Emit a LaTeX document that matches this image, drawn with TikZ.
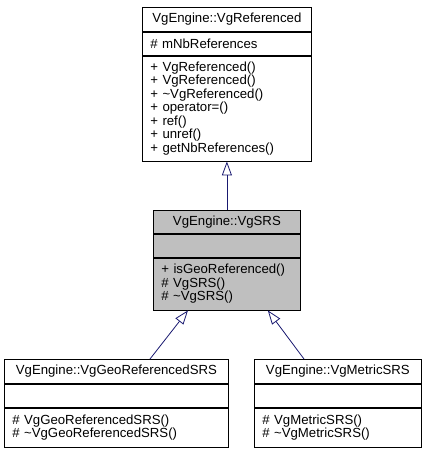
\documentclass[tikz,border=0pt]{standalone}
\usepackage{fontspec}
\setmainfont{Liberation Sans}
\usetikzlibrary{arrows.meta}
\definecolor{edgeblue}{HTML}{191970}
\definecolor{nodegrey}{HTML}{BFBFBF}
\tikzset{
  cls/.style={draw=black, line width=0.8pt, inner xsep=8pt, inner ysep=0pt, anchor=north west, font=\fontsize{13.2}{13.5}\selectfont},
  clshead/.style 2 args={cls, text width=#1, minimum height=#2, align=center},
  clsrow/.style 2 args={cls, text width=#1, minimum height=#2, align=left},
  inherit/.style={draw=edgeblue, line width=0.8pt, -{Triangle[open, length=14pt, width=10pt]}},
}

\begin{document}
\begin{tikzpicture}[x=1pt, y=-1pt]
			%%%%% FRAME %%%%%
			\useasboundingbox (0,0) rectangle (425,451);
			
			%%%%% BASE CLASS %%%%%
			\node[clshead={153pt}{24pt}] (ref) at (142,7) {VgEngine::VgReferenced};
			\node[clsrow={153pt}{23pt}] (ref-a) at (ref.south west) {\# mNbReferences};
			\node[clsrow={153pt}{105pt}] (ref-m) at (ref-a.south west) {+ VgReferenced()\\+ VgReferenced()\\+ \textasciitilde VgReferenced()\\+ operator=()\\+ ref()\\+ unref()\\+ getNbReferences()};
			
			%%%%% CURRENT CLASS %%%%%
			\node[clshead={131pt}{23pt}, fill=nodegrey] (srs) at (153,210) {VgEngine::VgSRS};
			\node[clsrow={131pt}{23pt}, fill=nodegrey] (srs-a) at (srs.south west) {};
			\node[clsrow={131pt}{52pt}, fill=nodegrey] (srs-m) at (srs-a.south west) {+ isGeoReferenced()\\\# VgSRS()\\\# \textasciitilde VgSRS()};
			
			%%%%% DERIVED CLASSES %%%%%
			\node[clshead={208pt}{24pt}] (geo) at (4,359) {VgEngine::VgGeoReferencedSRS};
			\node[clsrow={208pt}{23pt}] (geo-a) at (geo.south west) {};
			\node[clsrow={208pt}{39pt}] (geo-m) at (geo-a.south west) {\# VgGeoReferencedSRS()\\\# \textasciitilde VgGeoReferencedSRS()};
			
			\node[clshead={151pt}{24pt}] (met) at (254,359) {VgEngine::VgMetricSRS};
			\node[clsrow={151pt}{23pt}] (met-a) at (met.south west) {};
			\node[clsrow={151pt}{39pt}] (met-m) at (met-a.south west) {\# VgMetricSRS()\\\# \textasciitilde VgMetricSRS()};
			
			%%%%% INHERITANCE %%%%%
			\draw[inherit] (srs.north) -- (ref-m.south);
			\draw[inherit] ([xshift=146pt]geo.north west) -- ([xshift=35pt]srs-m.south west);
			\draw[inherit] ([xshift=50pt]met.north west) -- ([xshift=-33pt]srs-m.south east);
			
			%%%%% END %%%%%
\end{tikzpicture}
\end{document}
